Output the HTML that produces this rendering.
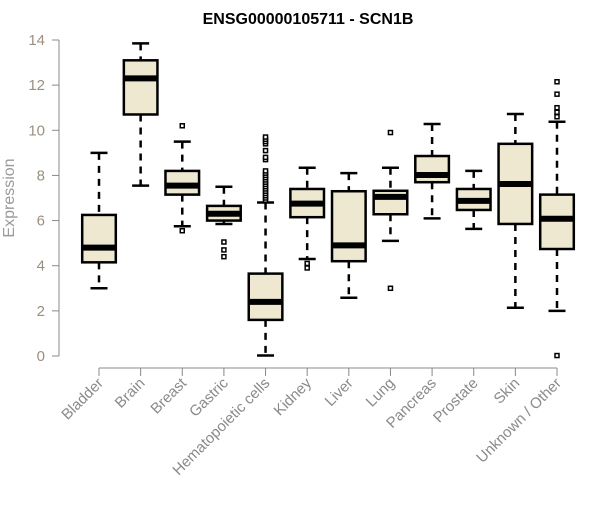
<!DOCTYPE html>
<html><head><meta charset="utf-8"><style>
body{margin:0;background:#fff}
svg text{font-family:"Liberation Sans",Arial,sans-serif}
</style></head><body>
<svg id="chart" width="600" height="500" xmlns="http://www.w3.org/2000/svg">
<text x="308" y="24" text-anchor="middle" font-weight="bold" font-size="16">ENSG00000105711 - SCN1B</text>
<text transform="translate(14,198) rotate(-90)" text-anchor="middle" font-size="16" fill="#9a9a9a">Expression</text>
<g id="yaxis"></g>
<g id="xaxis"></g>
<g id="boxes"></g>
</svg>
<script>
const categories=["Bladder","Brain","Breast","Gastric","Hematopoietic cells","Kidney","Liver","Lung","Pancreas","Prostate","Skin","Unknown / Other"];
const whiskerLow=[3.0,7.55,5.75,5.85,0.02,4.3,2.58,5.1,6.1,5.63,2.14,2.0];
const q1=[4.15,10.7,7.15,6.0,1.6,6.15,4.2,6.28,7.7,6.47,5.85,4.74];
const medians=[4.8,12.3,7.55,6.3,2.4,6.75,4.9,7.05,8.02,6.87,7.62,6.08];
const q3=[6.25,13.1,8.2,6.65,3.65,7.4,7.3,7.32,8.86,7.4,9.4,7.15];
const whiskerHigh=[9.0,13.85,9.5,7.5,6.8,8.34,8.1,8.34,10.28,8.2,10.72,10.38];
const outliers=[[],[],[10.2,5.55],[5.05,4.7,4.4],[6.9,7.0,7.1,7.2,7.3,7.4,7.5,7.6,7.7,7.8,7.9,8.0,8.1,8.2,8.7,8.8,9.1,9.4,9.5,9.6,9.7],[4.1,3.9],[],[9.9,3.0],[],[],[],[0.02,10.6,10.8,11.0,11.6,12.15]];
const yTicks=[0,2,4,6,8,10,12,14];
const NS="http://www.w3.org/2000/svg";
const y=v=>356-v*(316/14);
const x=i=>99+i*(458/11);
function mk(tag,attrs,parent){const e=document.createElementNS(NS,tag);for(const k in attrs)e.setAttribute(k,attrs[k]);parent.appendChild(e);return e;}
const ya=document.getElementById('yaxis'),xa=document.getElementById('xaxis'),bx=document.getElementById('boxes');
let l=mk('line',{x1:59,x2:59,y1:y(0),y2:y(14),stroke:'#888'},ya);


yTicks.forEach(t=>{
 const tk=mk('line',{x1:52,x2:59,y1:y(t),y2:y(t),stroke:'#888'},ya);
 
 
 const tx=mk('text',{x:45,y:y(t)+5,'text-anchor':'end','font-size':15,fill:'#9a8f80'},ya);
 tx.textContent=t;
 
 
});
l=mk('line',{x1:x(0),x2:x(11),y1:368,y2:368,stroke:'#888'},xa);


categories.forEach((c,i)=>{
 const tk=mk('line',{x1:x(i),x2:x(i),y1:368,y2:376,stroke:'#888'},xa);
 
 
 const tx=mk('text',{transform:`translate(${x(i)+5},384) rotate(-45)`,'text-anchor':'end','font-size':15,fill:'#8a8a8a'},xa);
 tx.textContent=c;
 
 
 const g=mk('g',{},bx);
 
 
 const cx=x(i),hw=16.8,cap=8.5;
 mk('line',{x1:cx,x2:cx,y1:y(whiskerHigh[i]),y2:y(q3[i]),stroke:'#000','stroke-width':2.5,'stroke-dasharray':'7,6'},g);
 mk('line',{x1:cx,x2:cx,y1:y(q1[i]),y2:y(whiskerLow[i]),stroke:'#000','stroke-width':2.5,'stroke-dasharray':'7,6'},g);
 mk('line',{x1:cx-cap,x2:cx+cap,y1:y(whiskerHigh[i]),y2:y(whiskerHigh[i]),stroke:'#000','stroke-width':2.5},g);
 mk('line',{x1:cx-cap,x2:cx+cap,y1:y(whiskerLow[i]),y2:y(whiskerLow[i]),stroke:'#000','stroke-width':2.5},g);
 mk('rect',{x:cx-hw,y:y(q3[i]),width:2*hw,height:y(q1[i])-y(q3[i]),fill:'#ede8cf',stroke:'#000','stroke-width':2.5},g);
 mk('line',{x1:cx-hw,x2:cx+hw,y1:y(medians[i]),y2:y(medians[i]),stroke:'#000','stroke-width':6},g);
 outliers[i].forEach(o=>{
  const p=mk('rect',{x:cx-2,y:y(o)-2,width:4,height:4,fill:'#fff',stroke:'#000','stroke-width':1.5},g);
  
  
 });
});
</script>
</body></html>
